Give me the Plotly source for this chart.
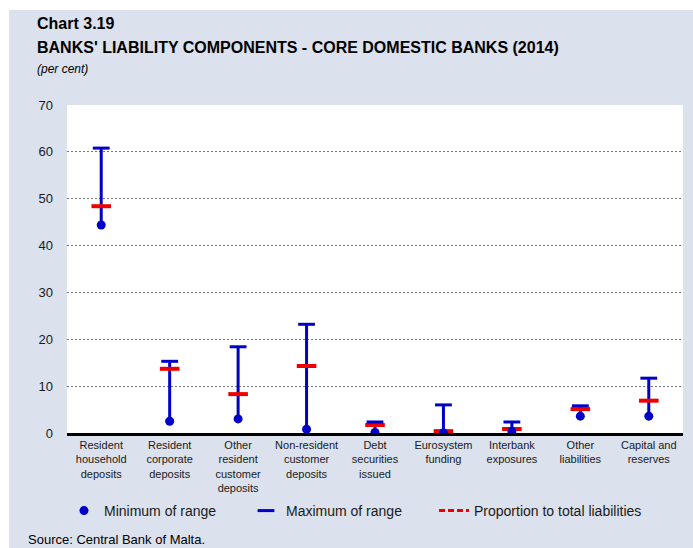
import plotly.graph_objects as go

categories = [
    "Resident<br>household<br>deposits",
    "Resident<br>corporate<br>deposits",
    "Other<br>resident<br>customer<br>deposits",
    "Non-resident<br>customer<br>deposits",
    "Debt<br>securities<br>issued",
    "Eurosystem<br>funding",
    "Interbank<br>exposures",
    "Other<br>liabilities",
    "Capital and<br>reserves",
]
min_range = [44.4, 2.5, 3.0, 0.8, 0.1, 0.0, 0.35, 3.6, 3.6]
max_range = [60.8, 15.3, 18.4, 23.2, 2.35, 6.0, 2.35, 5.8, 11.7]
proportion = [48.4, 13.7, 8.3, 14.3, 1.7, 0.4, 0.85, 5.1, 6.9]
y_ticks = [0, 10, 20, 30, 40, 50, 60, 70]

BLUE = "#0000c8"
RED = "#ee0000"
PANEL = "#dbe1ed"

# build range line segments
lx, ly = [], []
for c, lo, hi in zip(categories, min_range, max_range):
    lx += [c, c, None]
    ly += [lo, hi, None]

fig = go.Figure()
fig.add_trace(go.Scatter(x=lx, y=ly, mode="lines", line=dict(color=BLUE, width=3),
                         showlegend=False, hoverinfo="skip"))
fig.add_trace(go.Scatter(x=categories, y=proportion, mode="markers",
                         marker=dict(symbol="line-ew", size=14, line=dict(color=RED, width=4)),
                         showlegend=False))
fig.add_trace(go.Scatter(x=categories, y=max_range, mode="markers",
                         name="Maximum of range", legend="legend2",
                         marker=dict(symbol="line-ew", size=12, line=dict(color=BLUE, width=3))))
fig.add_trace(go.Scatter(x=categories, y=min_range, mode="markers",
                         name="Minimum of range", legend="legend",
                         marker=dict(symbol="circle", size=9, color=BLUE)))
# legend entry for proportion
fig.add_trace(go.Scatter(x=[None], y=[None], mode="lines",
                         name="Proportion to total liabilities", legend="legend3",
                         line=dict(color=RED, width=3, dash="6px,3px")))

def px_x(p):
    return (p - 67) / 616

def px_y(p):
    return (433 - p) / 328

def leg(xp):
    return dict(orientation="h", x=px_x(xp), xanchor="left", y=px_y(511), yanchor="middle",
                font=dict(size=14), bgcolor="rgba(0,0,0,0)")

fig.update_layout(
    width=693, height=548,
    margin=dict(l=67, r=10, t=105, b=115),
    paper_bgcolor=PANEL, plot_bgcolor="white",
    font=dict(family="Liberation Sans, Arial, sans-serif", color="#1a1a1a"),
    showlegend=True,
    legend=leg(64),
    legend2=leg(246),
    legend3=leg(434),
    xaxis=dict(type="category", range=[-0.5, 8.5], showgrid=False, zeroline=False,
               showline=True, linecolor="black", linewidth=2.5,
               tickfont=dict(size=11), ticks="", fixedrange=True),
    yaxis=dict(range=[0, 70], tickvals=y_ticks, showgrid=True, gridcolor="#777777",
               griddash="2px,2px", gridwidth=1, zeroline=False, showline=False,
               tickfont=dict(size=13), ticklabelstandoff=13, fixedrange=True),
    shapes=[
        dict(type="rect", xref="paper", yref="paper", x0=px_x(0), x1=px_x(9),
             y0=px_y(548), y1=px_y(0), fillcolor="white", line=dict(width=0), layer="below"),
        dict(type="rect", xref="paper", yref="paper", x0=px_x(0), x1=px_x(693),
             y0=px_y(10), y1=px_y(0), fillcolor="white", line=dict(width=0), layer="below"),
    ],
    annotations=[
        dict(text="<b>Chart 3.19</b>", xref="paper", yref="paper", x=px_x(35), y=px_y(24),
             xanchor="left", yanchor="middle", showarrow=False, font=dict(size=16, color="black")),
        dict(text="<b>BANKS' LIABILITY COMPONENTS - CORE DOMESTIC BANKS (2014)</b>", xref="paper",
             yref="paper", x=px_x(35), y=px_y(48), xanchor="left", yanchor="middle",
             showarrow=False, font=dict(size=16, color="black")),
        dict(text="<i>(per cent)</i>", xref="paper", yref="paper", x=px_x(35), y=px_y(69),
             xanchor="left", yanchor="middle", showarrow=False, font=dict(size=12, color="black")),
        dict(text="Source: Central Bank of Malta.", xref="paper", yref="paper", x=px_x(26),
             y=px_y(539), xanchor="left", yanchor="middle", showarrow=False,
             font=dict(size=13, color="black")),
    ],
)

fig.write_html("out.html", config={"displayModeBar": False},
               post_script="document.body.style.margin='0';document.body.style.padding='0';")
